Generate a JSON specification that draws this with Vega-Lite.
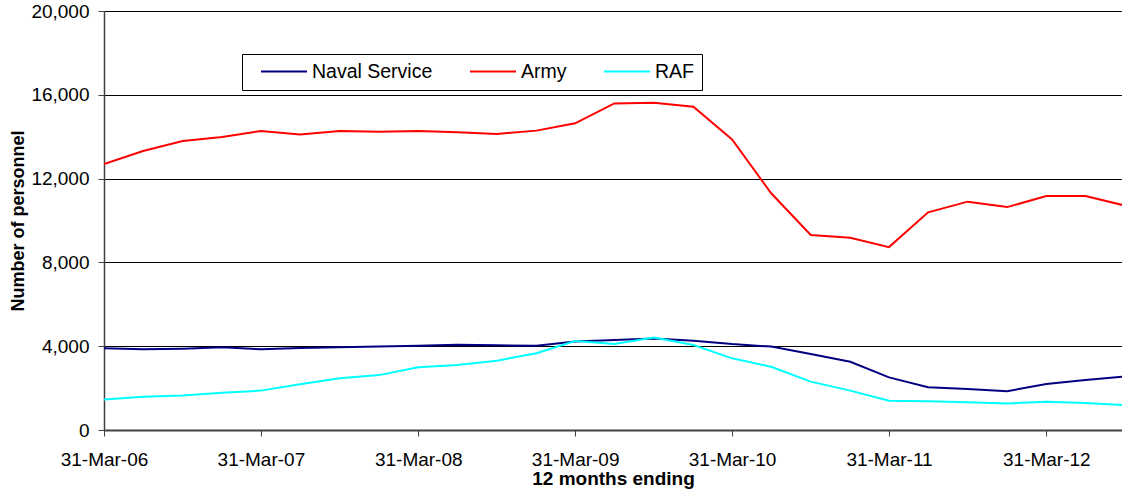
{
  "$schema": "https://vega.github.io/schema/vega-lite/v6.json",
  "width": 1018,
  "height": 419,
  "autosize": {"type": "none"},
  "padding": {"left": 104, "top": 11, "right": 0, "bottom": 63},
  "background": "white",
  "config": {"view": {"stroke": null}, "font": "Liberation Sans"},
  "data": {
    "values": [
      {"date": "2006-03-31", "Naval Service": 3900, "Army": 12700, "RAF": 1460},
      {"date": "2006-06-30", "Naval Service": 3850, "Army": 13320, "RAF": 1590},
      {"date": "2006-09-30", "Naval Service": 3880, "Army": 13790, "RAF": 1650},
      {"date": "2006-12-31", "Naval Service": 3950, "Army": 13985, "RAF": 1780},
      {"date": "2007-03-31", "Naval Service": 3850, "Army": 14270, "RAF": 1880},
      {"date": "2007-06-30", "Naval Service": 3920, "Army": 14110, "RAF": 2180},
      {"date": "2007-09-30", "Naval Service": 3950, "Army": 14270, "RAF": 2470},
      {"date": "2007-12-31", "Naval Service": 3980, "Army": 14240, "RAF": 2620},
      {"date": "2008-03-31", "Naval Service": 4020, "Army": 14270, "RAF": 2990},
      {"date": "2008-06-30", "Naval Service": 4070, "Army": 14210, "RAF": 3100},
      {"date": "2008-09-30", "Naval Service": 4040, "Army": 14130, "RAF": 3310},
      {"date": "2008-12-31", "Naval Service": 4020, "Army": 14290, "RAF": 3660},
      {"date": "2009-03-31", "Naval Service": 4220, "Army": 14640, "RAF": 4250},
      {"date": "2009-06-30", "Naval Service": 4300, "Army": 15590, "RAF": 4100},
      {"date": "2009-09-30", "Naval Service": 4370, "Army": 15620, "RAF": 4420},
      {"date": "2009-12-31", "Naval Service": 4260, "Army": 15430, "RAF": 4060},
      {"date": "2010-03-31", "Naval Service": 4100, "Army": 13870, "RAF": 3420},
      {"date": "2010-06-30", "Naval Service": 3980, "Army": 11300, "RAF": 3020},
      {"date": "2010-09-30", "Naval Service": 3630, "Army": 9310, "RAF": 2310},
      {"date": "2010-12-31", "Naval Service": 3260, "Army": 9180, "RAF": 1880},
      {"date": "2011-03-31", "Naval Service": 2510, "Army": 8730, "RAF": 1400},
      {"date": "2011-06-30", "Naval Service": 2040, "Army": 10390, "RAF": 1370},
      {"date": "2011-09-30", "Naval Service": 1960, "Army": 10900, "RAF": 1320},
      {"date": "2011-12-31", "Naval Service": 1850, "Army": 10640, "RAF": 1270},
      {"date": "2012-03-31", "Naval Service": 2200, "Army": 11170, "RAF": 1350},
      {"date": "2012-06-30", "Naval Service": 2390, "Army": 11170, "RAF": 1290},
      {"date": "2012-09-30", "Naval Service": 2550, "Army": 10710, "RAF": 1180}
    ]
  },
  "transform": [
    {"fold": ["Naval Service", "Army", "RAF"], "as": ["service", "personnel"]}
  ],
  "mark": {"type": "line", "strokeWidth": 2, "clip": true},
  "encoding": {
    "x": {
      "field": "date",
      "type": "temporal",
      "scale": {
        "type": "utc",
        "domain": [
          {"year": 2006, "month": 3, "date": 31, "utc": true},
          {"year": 2012, "month": 9, "date": 23, "utc": true}
        ]
      },
      "axis": {
        "values": [
          {"year": 2006, "month": 3, "date": 31, "utc": true},
          {"year": 2007, "month": 3, "date": 31, "utc": true},
          {"year": 2008, "month": 3, "date": 31, "utc": true},
          {"year": 2009, "month": 3, "date": 31, "utc": true},
          {"year": 2010, "month": 3, "date": 31, "utc": true},
          {"year": 2011, "month": 3, "date": 31, "utc": true},
          {"year": 2012, "month": 3, "date": 31, "utc": true}
        ],
        "format": "%d-%b-%y",
        "grid": false,
        "labelFontSize": 19,
        "labelColor": "black",
        "labelFlush": false,
        "labelOverlap": false,
        "labelPadding": 14,
        "tickSize": 6,
        "tickColor": "#404040",
        "domainColor": "#404040",
        "domainWidth": 2,
        "title": "12 months ending",
        "titleFontSize": 19,
        "titleFontWeight": "bold",
        "titleColor": "black",
        "titlePadding": 0
      }
    },
    "y": {
      "field": "personnel",
      "type": "quantitative",
      "scale": {"domain": [0, 20000], "nice": false},
      "axis": {
        "values": [0, 4000, 8000, 12000, 16000, 20000],
        "format": ",.0f",
        "grid": true,
        "gridColor": "black",
        "gridWidth": 1,
        "labelFontSize": 19,
        "labelColor": "black",
        "labelPadding": 9,
        "tickSize": 6,
        "tickColor": "#404040",
        "domainColor": "#404040",
        "domainWidth": 1.5,
        "title": "Number of personnel",
        "titleFontSize": 18,
        "titleFontWeight": "bold",
        "titleColor": "black",
        "titlePadding": 3
      }
    },
    "color": {
      "field": "service",
      "type": "nominal",
      "scale": {
        "domain": ["Naval Service", "Army", "RAF"],
        "range": ["#000080", "#FF0000", "#00FFFF"]
      },
      "legend": {
        "orient": "none",
        "legendX": 138,
        "legendY": 43,
        "direction": "horizontal",
        "title": "\u00a0",
        "titleOrient": "left",
        "titleFontSize": 19,
        "titlePadding": 10,
        "strokeColor": "black",
        "fillColor": "white",
        "padding": 8,
        "clipHeight": 19,
        "symbolType": "stroke",
        "symbolSize": 2116,
        "symbolStrokeWidth": 2,
        "labelFontSize": 19.5,
        "labelColor": "black",
        "labelOffset": 4,
        "columnPadding": 36,
        "labelExpr": "datum.label + '\\u2002'"
      }
    }
  }
}
